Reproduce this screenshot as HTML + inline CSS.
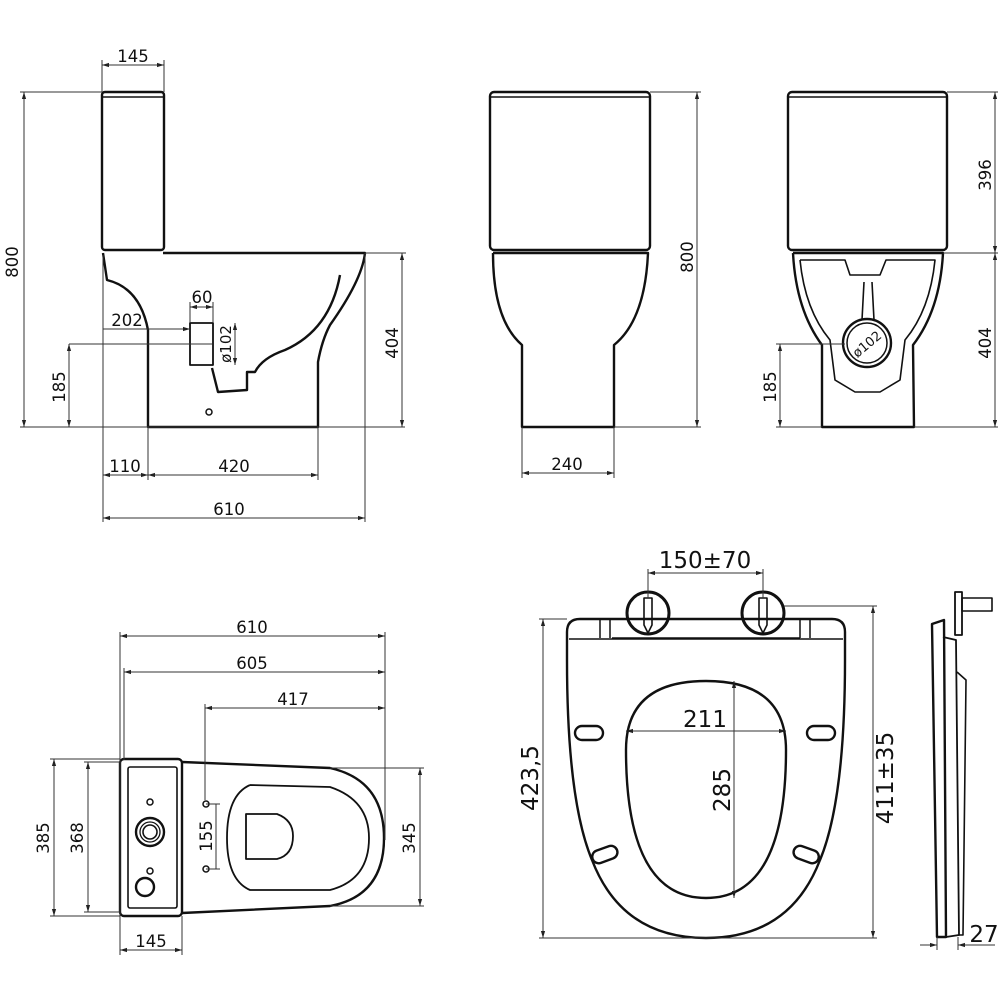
<!DOCTYPE html>
<html><head><meta charset="utf-8"><style>
html,body{margin:0;padding:0;background:#fff}
svg{display:block}
text{font-family:"DejaVu Sans","Liberation Sans",sans-serif;fill:#111}
</style></head><body>
<svg width="1000" height="1000" viewBox="0 0 1000 1000" xmlns="http://www.w3.org/2000/svg">
<defs>
<marker id="a" viewBox="0 0 10 10" refX="10" refY="5" markerWidth="7" markerHeight="7" orient="auto-start-reverse"><path d="M0,2 L10,5 L0,8 z" fill="#222"/></marker>
</defs>
<g fill="none" stroke="#111" stroke-width="2.4" stroke-linejoin="round">
<!-- side view -->
<rect x="102" y="92" width="62" height="158" rx="3"/>
<line x1="102" y1="97" x2="164" y2="97" stroke-width="1.5"/>
<path d="M103,253 L107,280 Q140,288 148,330 L148,427 L318,427 L318,362 Q322,340 330,325 Q362,280 365,253 L163,253"/>
<path d="M340,275 Q330,330 285,350 Q262,358 255,372 L247,372 L247,390 L218,392 L212,368"/>
<rect x="190" y="323" width="23" height="42" stroke-width="1.8"/>
<circle cx="209" cy="412" r="3" stroke-width="1.5"/>
<!-- front view -->
<rect x="490" y="92" width="160" height="158" rx="4"/>
<line x1="490" y1="97" x2="650" y2="97" stroke-width="1.5"/>
<path d="M493,253 L648,253 Q645,320 614,345 L614,427 L522,427 L522,345 Q493,320 493,253"/>
<!-- rear view -->
<rect x="788" y="92" width="159" height="158" rx="4"/>
<line x1="788" y1="97" x2="947" y2="97" stroke-width="1.5"/>
<path d="M793,253 L943,253 Q940,310 913,345 L914,427 L822,427 L822,345 Q796,310 793,253"/>
<path d="M800,260 L845,260 L850,275 L880,275 L886,260 L935,260 Q930,310 905,340 L900,380 L880,392 L855,392 L835,380 L830,340 Q805,310 800,260" stroke-width="1.6"/>
<path d="M864,282 L862,320 M872,282 L874,320" stroke-width="1.6"/>
<circle cx="867" cy="343" r="24"/><circle cx="867" cy="343" r="20" stroke-width="1.5"/>
<!-- plan view -->
<rect x="120" y="759" width="62" height="157" rx="4"/>
<rect x="128" y="767" width="49" height="141" rx="2" stroke-width="1.6"/>
<path d="M182,762 L330,768 Q384,780 384,838 Q384,896 330,906 L182,913"/>
<path d="M250,785 L330,787 Q369,800 369,838 Q369,880 330,890 L250,890 Q227,880 227,838 Q227,795 250,785" stroke-width="1.8"/>
<path d="M246,814 L277,814 Q293,820 293,836 Q293,855 277,859 L246,859 Z" stroke-width="1.8"/>
<circle cx="150" cy="832" r="14"/><circle cx="150" cy="832" r="10" stroke-width="1.3"/><circle cx="150" cy="832" r="7" stroke-width="1.6"/>
<circle cx="150" cy="802" r="3" stroke-width="1.5"/><circle cx="150" cy="871" r="3" stroke-width="1.5"/>
<circle cx="145" cy="887" r="9"/>
<circle cx="206" cy="804" r="3" stroke-width="1.5"/><circle cx="206" cy="869" r="3" stroke-width="1.5"/>
<!-- seat -->
<path d="M580,619 L832,619 Q845,619 845,632 L845,660 Q845,800 820,860 Q790,938 706,938 Q622,938 592,860 Q567,800 567,660 L567,632 Q567,619 580,619 Z"/>
<path d="M569,639 L843,639" stroke-width="1.5"/>
<path d="M610,619 L610,638 M600,619 L600,638 M810,619 L810,638 M800,619 L800,638 M612,638 L800,638" stroke-width="1.5"/>
<path d="M706,681 Q786,681 786,750 Q786,898 706,898 Q626,898 626,750 Q626,681 706,681 Z"/>
<circle cx="648" cy="613" r="21" stroke-width="3"/><circle cx="763" cy="613" r="21" stroke-width="3"/>
<path d="M644,598 L652,598 L652,625 L648,633 L644,625 Z M759,598 L767,598 L767,625 L763,633 L759,625 Z" stroke-width="1.6"/>
<rect x="575" y="726" width="28" height="14" rx="7"/>
<rect x="807" y="726" width="28" height="14" rx="7"/>
<rect x="592" y="848" width="26" height="13" rx="6.5" transform="rotate(-20 605 855)"/>
<rect x="793" y="848" width="26" height="13" rx="6.5" transform="rotate(20 806 855)"/>
<!-- seat side -->
<path d="M932,624 L944,620 L946,937 L937,937 Z"/>
<path d="M943,637 L956,640 L959,935 L946,937" stroke-width="1.8"/>
<path d="M957,672 L966,680 L963,935 L959,935" stroke-width="1.6"/>
<rect x="955" y="592" width="7" height="43" stroke-width="1.8"/>
<rect x="962" y="598" width="30" height="13" stroke-width="1.6"/>
</g>
<!-- dimension lines -->
<g fill="none" stroke="#333" stroke-width="1">
<line x1="102" y1="65" x2="164" y2="65" marker-start="url(#a)" marker-end="url(#a)"/>
<line x1="102" y1="60" x2="102" y2="92"/><line x1="164" y1="60" x2="164" y2="92"/>
<line x1="24" y1="92" x2="24" y2="427" marker-start="url(#a)" marker-end="url(#a)"/>
<line x1="20" y1="92" x2="102" y2="92"/><line x1="20" y1="427" x2="405" y2="427"/>
<line x1="103" y1="329" x2="190" y2="329" marker-end="url(#a)"/>
<line x1="190" y1="307" x2="213" y2="307" marker-start="url(#a)" marker-end="url(#a)"/>
<line x1="190" y1="302" x2="190" y2="323"/><line x1="213" y1="302" x2="213" y2="323"/>
<line x1="235" y1="323" x2="235" y2="365" marker-start="url(#a)" marker-end="url(#a)"/>
<line x1="69" y1="344" x2="69" y2="427" marker-start="url(#a)" marker-end="url(#a)"/>
<line x1="69" y1="344" x2="212" y2="344"/>
<line x1="402" y1="253" x2="402" y2="427" marker-start="url(#a)" marker-end="url(#a)"/>
<line x1="365" y1="253" x2="406" y2="253"/>
<line x1="103" y1="255" x2="103" y2="522"/><line x1="148" y1="427" x2="148" y2="480"/><line x1="318" y1="427" x2="318" y2="480"/><line x1="365" y1="253" x2="365" y2="522"/>
<line x1="103" y1="475" x2="148" y2="475" marker-start="url(#a)" marker-end="url(#a)"/>
<line x1="148" y1="475" x2="318" y2="475" marker-start="url(#a)" marker-end="url(#a)"/>
<line x1="103" y1="518" x2="365" y2="518" marker-start="url(#a)" marker-end="url(#a)"/>
<line x1="697" y1="92" x2="697" y2="427" marker-start="url(#a)" marker-end="url(#a)"/>
<line x1="650" y1="92" x2="701" y2="92"/><line x1="614" y1="427" x2="701" y2="427"/>
<line x1="522" y1="427" x2="522" y2="478"/><line x1="614" y1="427" x2="614" y2="478"/>
<line x1="522" y1="473" x2="614" y2="473" marker-start="url(#a)" marker-end="url(#a)"/>
<line x1="995" y1="92" x2="995" y2="253" marker-start="url(#a)" marker-end="url(#a)"/>
<line x1="995" y1="253" x2="995" y2="427" marker-start="url(#a)" marker-end="url(#a)"/>
<line x1="947" y1="92" x2="998" y2="92"/><line x1="943" y1="253" x2="998" y2="253"/><line x1="914" y1="427" x2="998" y2="427"/>
<line x1="780" y1="344" x2="780" y2="427" marker-start="url(#a)" marker-end="url(#a)"/>
<line x1="776" y1="344" x2="845" y2="344"/><line x1="776" y1="427" x2="822" y2="427"/>
<line x1="120" y1="636" x2="385" y2="636" marker-start="url(#a)" marker-end="url(#a)"/>
<line x1="124" y1="672" x2="385" y2="672" marker-start="url(#a)" marker-end="url(#a)"/>
<line x1="205" y1="708" x2="385" y2="708" marker-start="url(#a)" marker-end="url(#a)"/>
<line x1="120" y1="632" x2="120" y2="955"/><line x1="124" y1="668" x2="124" y2="760"/><line x1="205" y1="704" x2="205" y2="800"/><line x1="385" y1="632" x2="385" y2="840"/>
<line x1="54" y1="759" x2="54" y2="916" marker-start="url(#a)" marker-end="url(#a)"/>
<line x1="50" y1="759" x2="120" y2="759"/><line x1="50" y1="916" x2="120" y2="916"/>
<line x1="88" y1="762" x2="88" y2="912" marker-start="url(#a)" marker-end="url(#a)"/>
<line x1="84" y1="762" x2="120" y2="762"/><line x1="84" y1="912" x2="120" y2="912"/>
<line x1="420" y1="768" x2="420" y2="906" marker-start="url(#a)" marker-end="url(#a)"/>
<line x1="330" y1="768" x2="424" y2="768"/><line x1="330" y1="906" x2="424" y2="906"/>
<line x1="216" y1="804" x2="216" y2="869"/>
<line x1="206" y1="804" x2="220" y2="804"/><line x1="206" y1="869" x2="220" y2="869"/>
<line x1="182" y1="916" x2="182" y2="955"/>
<line x1="120" y1="950" x2="182" y2="950" marker-start="url(#a)" marker-end="url(#a)"/>
<line x1="648" y1="573" x2="763" y2="573" marker-start="url(#a)" marker-end="url(#a)"/>
<line x1="648" y1="569" x2="648" y2="598"/><line x1="763" y1="569" x2="763" y2="598"/>
<line x1="626" y1="731" x2="786" y2="731" marker-start="url(#a)" marker-end="url(#a)"/>
<line x1="734" y1="681" x2="734" y2="898" marker-start="url(#a)" marker-end="url(#a)"/>
<line x1="543" y1="619" x2="543" y2="938" marker-start="url(#a)" marker-end="url(#a)"/>
<line x1="539" y1="619" x2="567" y2="619"/><line x1="539" y1="938" x2="877" y2="938"/>
<line x1="873" y1="606" x2="873" y2="938" marker-start="url(#a)" marker-end="url(#a)"/>
<line x1="784" y1="606" x2="877" y2="606"/>
<line x1="920" y1="945" x2="937" y2="945" marker-end="url(#a)"/>
<line x1="958" y1="945" x2="995" y2="945" marker-start="url(#a)"/>
<line x1="937" y1="937" x2="937" y2="950"/><line x1="958" y1="937" x2="958" y2="950"/>
</g>
<g font-size="16.5">
<text x="133" y="62" text-anchor="middle">145</text>
<text x="18" y="262" text-anchor="middle" transform="rotate(-90 18 262)">800</text>
<text x="127" y="326" text-anchor="middle">202</text>
<text x="202" y="303" text-anchor="middle">60</text>
<text x="231" y="344" text-anchor="middle" font-size="15" transform="rotate(-90 231 344)">ø102</text>
<text x="65" y="387" text-anchor="middle" transform="rotate(-90 65 387)">185</text>
<text x="398" y="343" text-anchor="middle" transform="rotate(-90 398 343)">404</text>
<text x="125" y="472" text-anchor="middle">110</text>
<text x="234" y="472" text-anchor="middle">420</text>
<text x="229" y="515" text-anchor="middle">610</text>
<text x="693" y="257" text-anchor="middle" transform="rotate(-90 693 257)">800</text>
<text x="567" y="470" text-anchor="middle">240</text>
<text x="991" y="175" text-anchor="middle" transform="rotate(-90 991 175)">396</text>
<text x="991" y="343" text-anchor="middle" transform="rotate(-90 991 343)">404</text>
<text x="776" y="387" text-anchor="middle" transform="rotate(-90 776 387)">185</text>
<text x="866" y="349" text-anchor="middle" font-size="13" transform="rotate(-40 866 343)">ø102</text>
<text x="252" y="633" text-anchor="middle">610</text>
<text x="252" y="669" text-anchor="middle">605</text>
<text x="293" y="705" text-anchor="middle">417</text>
<text x="49" y="838" text-anchor="middle" transform="rotate(-90 49 838)">385</text>
<text x="83" y="838" text-anchor="middle" transform="rotate(-90 83 838)">368</text>
<text x="212" y="836" text-anchor="middle" transform="rotate(-90 212 836)">155</text>
<text x="415" y="838" text-anchor="middle" transform="rotate(-90 415 838)">345</text>
<text x="151" y="947" text-anchor="middle">145</text>
</g>
<g font-size="23">
<text x="705" y="568" text-anchor="middle">150±70</text>
<text x="705" y="727" text-anchor="middle">211</text>
<text x="730" y="790" text-anchor="middle" transform="rotate(-90 730 790)">285</text>
<text x="538" y="778" text-anchor="middle" transform="rotate(-90 538 778)">423,5</text>
<text x="893" y="778" text-anchor="middle" transform="rotate(-90 893 778)">411±35</text>
<text x="984" y="942" text-anchor="middle">27</text>
</g>
</svg>
</body></html>
